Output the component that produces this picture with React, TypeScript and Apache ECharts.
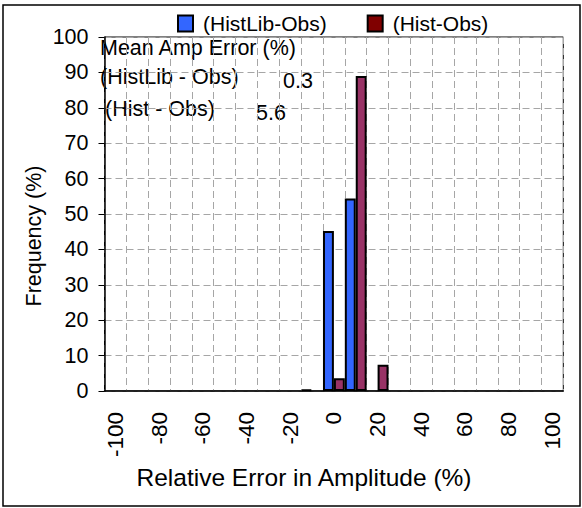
import React, { useEffect, useRef } from "react";
import * as echarts from "echarts";

const categories = [
  "-100", "-90", "-80", "-70", "-60", "-50", "-40", "-30", "-20", "-10",
  "0", "10", "20", "30", "40", "50", "60", "70", "80", "90", "100",
];
const histLibObs: (number | null)[] = [
  null, null, null, null, null, null, null, null, null, 0.4,
  45.2, 54.4, null, null, null, null, null, null, null, null, null,
];
const histObs: (number | null)[] = [
  null, null, null, null, null, null, null, null, null, null,
  3.6, 89.0, 7.4, null, null, null, null, null, null, null, null,
];
const seriesNames = ["(HistLib-Obs)", "(Hist-Obs)"];
const meanLabels = ["Mean Amp Error (%)", "(HistLib - Obs)", "(Hist - Obs)"];
const meanValues = ["0.3", "5.6"];
const yTitle = "Frequency (%)";
const xTitle = "Relative Error in Amplitude (%)";

const FONT = "'Liberation Sans', Arial, Helvetica, sans-serif";

export default function App() {
  const ref = useRef<HTMLDivElement>(null);
  useEffect(() => {
    if (!ref.current) return;
    const chart = echarts.init(ref.current, undefined, { renderer: "svg" });
    const txt = (text: string, x: number, y: number, extra: any = {}) => ({
      type: "text",
      x,
      y,
      silent: true,
      style: {
        text,
        fill: "#000",
        font: `21.5px ${FONT}`,
        textVerticalAlign: "middle",
        ...extra,
      },
    });
    chart.setOption({
      animation: false,
      backgroundColor: "#fff",
      textStyle: { fontFamily: FONT },
      legend: {
        left: 172,
        top: 8,
        itemWidth: 15,
        itemHeight: 16,
        itemGap: 40,
        icon: "rect",
        textStyle: { fontSize: 21, color: "#000", fontFamily: FONT, padding: [0, 0, 0, 5] },
        data: [
          { name: seriesNames[0] },
          { name: seriesNames[1], itemStyle: { color: "#800000" } },
        ],
      },
      grid: {
        left: 104.5,
        right: 18.7,
        top: 37,
        bottom: 117,
        show: true,
        borderColor: "#000",
        borderWidth: 1,
        containLabel: false,
      },
      xAxis: {
        type: "category",
        data: categories,
        boundaryGap: true,
        axisLine: { show: true, lineStyle: { color: "#000", width: 1.5 } },
        axisTick: { show: false },
        axisLabel: {
          interval: 1,
          rotate: 90,
          margin: 21,
          fontSize: 22.5,
          color: "#000",
          fontFamily: FONT,
        },
        splitLine: {
          show: true,
          interval: 0,
          lineStyle: { color: "#a6a6a6", type: [7, 4], width: 1 },
        },
      },
      yAxis: {
        type: "value",
        min: 0,
        max: 100,
        interval: 10,
        axisLine: { show: true, lineStyle: { color: "#000", width: 1.5 } },
        axisTick: { show: true, length: 6, lineStyle: { color: "#000" } },
        axisLabel: { fontSize: 21.5, color: "#000", margin: 16, fontFamily: FONT },
        splitLine: {
          show: true,
          lineStyle: { color: "#a6a6a6", type: [7, 4], width: 1 },
        },
      },
      series: [
        {
          name: seriesNames[0],
          type: "bar",
          data: histLibObs,
          barGap: "0%",
          barCategoryGap: "0%",
          itemStyle: { color: "#3366ff", borderColor: "#000", borderWidth: 2 },
        },
        {
          name: seriesNames[1],
          type: "bar",
          data: histObs,
          barGap: "0%",
          barCategoryGap: "0%",
          itemStyle: { color: "#993366", borderColor: "#000", borderWidth: 2 },
        },
      ],
      graphic: [
        {
          type: "rect",
          silent: true,
          shape: { x: 3, y: 5, width: 577, height: 501 },
          style: { fill: "none", stroke: "#000", lineWidth: 1.5 },
        },
        txt(meanLabels[0], 100, 48),
        txt(meanLabels[1], 100, 77),
        txt(meanValues[0], 283, 81),
        txt(meanLabels[2], 105, 109),
        txt(meanValues[1], 256, 113),
        txt(xTitle, 304, 477, { font: `24.5px ${FONT}`, textAlign: "center" }),
        {
          type: "text",
          x: 34,
          y: 236,
          rotation: Math.PI / 2,
          silent: true,
          style: {
            text: yTitle,
            fill: "#000",
            font: `21.5px ${FONT}`,
            textAlign: "center",
            textVerticalAlign: "middle",
          },
        },
      ],
    });
    return () => chart.dispose();
  }, []);
  return (
    <div
      ref={ref}
      style={{ position: "absolute", left: 0, top: 0, width: 582, height: 508 }}
    />
  );
}
